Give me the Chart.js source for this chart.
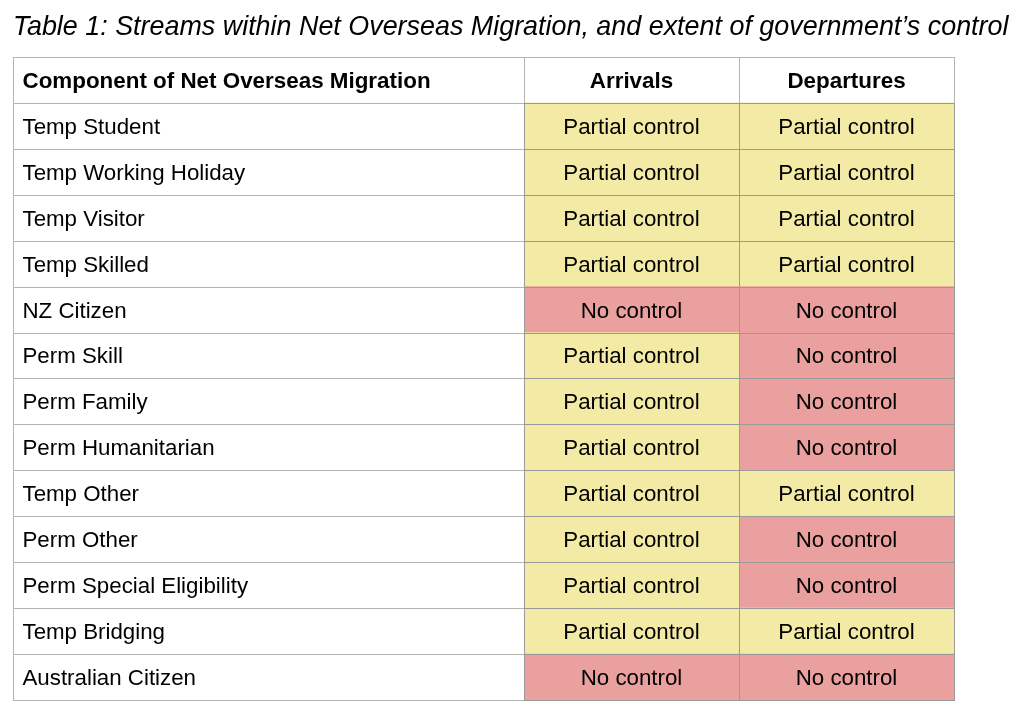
<!DOCTYPE html>
<html>
<head>
<meta charset="utf-8">
<script src="https://cdn.jsdelivr.net/npm/chart.js@4.4.0/dist/chart.umd.min.js"></script>
<style>
  html, body { margin: 0; padding: 0; background: #fff; }
  #wrap { width: 1024px; height: 719px; }
</style>
</head>
<body>
<div id="wrap"><canvas id="tableChart"></canvas></div>
<script>
const titleText = 'Table 1: Streams within Net Overseas Migration, and extent of government\u2019s control';
const headers = ['Component of Net Overseas Migration', 'Arrivals', 'Departures'];
const components = [
  'Temp Student', 'Temp Working Holiday', 'Temp Visitor', 'Temp Skilled', 'NZ Citizen',
  'Perm Skill', 'Perm Family', 'Perm Humanitarian', 'Temp Other', 'Perm Other',
  'Perm Special Eligibility', 'Temp Bridging', 'Australian Citizen'
];
const arrivals = [
  'Partial control', 'Partial control', 'Partial control', 'Partial control', 'No control',
  'Partial control', 'Partial control', 'Partial control', 'Partial control', 'Partial control',
  'Partial control', 'Partial control', 'No control'
];
const departures = [
  'Partial control', 'Partial control', 'Partial control', 'Partial control', 'No control',
  'No control', 'No control', 'No control', 'Partial control', 'No control',
  'No control', 'Partial control', 'No control'
];

// layout only: column widths in px, and the x range (table leaves room at right for the title)
const colWidths = [511, 215, 215];
const xRange = 1006;
const fillFor = { 'Partial control': '#f3eba5', 'No control': '#e9a09f' };

const rowLabels = ['header'].concat(components);
const columns = [
  ['header'].concat(components),
  ['header'].concat(arrivals),
  ['header'].concat(departures)
];
const cellText = (c, r) => r === 0 ? headers[c] : columns[c][r];
const cellFill = (c, r) => (r === 0 || c === 0) ? '#ffffff' : fillFor[columns[c][r]];

// snap to pixel grid, guarding against float noise at shared edges
const snap = v => Math.round(Math.round(v * 100) / 100) + 0.5;

const tableText = {
  id: 'tableText',
  afterDatasetsDraw(chart) {
    const ctx = chart.ctx;
    ctx.save();
    // borders: white cells first, coloured cells after so their darker edge wins
    [false, true].forEach(coloured => {
      chart.data.datasets.forEach((ds, c) => {
        chart.getDatasetMeta(c).data.forEach((bar, r) => {
          const isCol = !(r === 0 || c === 0);
          if (isCol !== coloured) return;
          const l = snap(Math.min(bar.base, bar.x));
          const rt = snap(Math.max(bar.base, bar.x));
          const t = snap(bar.y - bar.height / 2);
          const b = snap(bar.y + bar.height / 2);
          ctx.strokeStyle = coloured ? '#9a9a9a' : '#b4b4b4';
          ctx.lineWidth = 1;
          ctx.strokeRect(l, t, rt - l, b - t);
        });
      });
    });
    // texts
    ctx.fillStyle = '#000';
    ctx.textBaseline = 'middle';
    chart.data.datasets.forEach((ds, c) => {
      chart.getDatasetMeta(c).data.forEach((bar, r) => {
        const l = Math.min(bar.base, bar.x);
        const rt = Math.max(bar.base, bar.x);
        ctx.font = (r === 0 ? 'bold 22.4px' : '22.3px') + ' "Liberation Sans", Arial, sans-serif';
        if (c === 0) {
          ctx.textAlign = 'left';
          ctx.fillText(cellText(c, r), l + 9.5, bar.y + 1.8);
        } else {
          ctx.textAlign = 'center';
          ctx.fillText(cellText(c, r), (l + rt) / 2, bar.y + 1.8);
        }
      });
    });
    ctx.restore();
  }
};

new Chart(document.getElementById('tableChart').getContext('2d'), {
  type: 'bar',
  data: {
    labels: rowLabels,
    datasets: columns.map((col, c) => ({
      label: headers[c],
      data: col.map(() => colWidths[c]),
      backgroundColor: col.map((v, r) => cellFill(c, r)),
      borderWidth: 0,
      categoryPercentage: 1,
      barPercentage: 1
    }))
  },
  options: {
    indexAxis: 'y',
    responsive: true,
    maintainAspectRatio: false,
    animation: false,
    devicePixelRatio: 1,
    layout: { padding: { left: 13, right: 5, top: 0, bottom: 19 } },
    plugins: {
      legend: { display: false },
      tooltip: { enabled: false },
      title: {
        display: true,
        text: titleText,
        align: 'start',
        color: '#000',
        font: { family: '"Liberation Sans", Arial, sans-serif', size: 26.9, style: 'italic', weight: 'normal', lineHeight: 1.2 },
        padding: { top: 11, bottom: 13.7 }
      }
    },
    scales: {
      x: { display: false, stacked: true, min: 0, max: xRange },
      y: { display: false, stacked: true }
    }
  },
  plugins: [tableText]
});
</script>
</body>
</html>
